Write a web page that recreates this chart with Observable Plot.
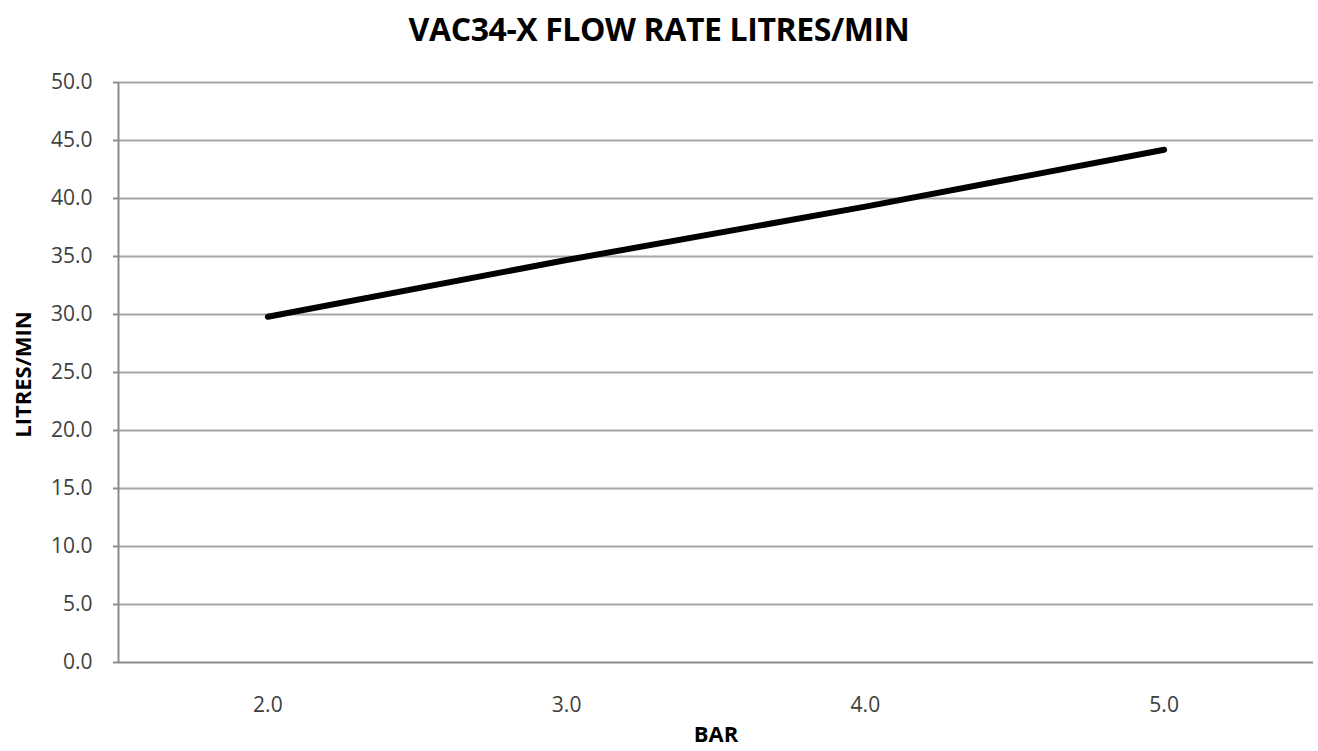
<!DOCTYPE html>
<html>
<head>
<meta charset="utf-8">
<script src="https://cdn.jsdelivr.net/npm/d3@7"></script>
<script src="https://cdn.jsdelivr.net/npm/@observablehq/plot@0.6"></script>
<style>
  html, body { margin: 0; padding: 0; background: #fff; }
  body { width: 1318px; height: 751px; overflow: hidden; font-family: "Open Sans", Lato, sans-serif; }
  #title { height: 60px; line-height: 58px; text-align: center; font-weight: bold; font-size: 32px; color: #000; letter-spacing: -0.4px; white-space: nowrap; }
</style>
</head>
<body>
<div id="title">VAC34-X FLOW RATE LITRES/MIN</div>
<div id="chart"></div>
<script>
const pressures = [2.0, 3.0, 4.0, 5.0];
const flowRates = [29.8, 34.7, 39.3, 44.2];
const yTicks = [0, 5, 10, 15, 20, 25, 30, 35, 40, 45, 50];

const data = pressures.map((p, i) => ({bar: p, flow: flowRates[i]}));
const fmt = d3.format(".1f");

const chart = Plot.plot({
  width: 1318,
  height: 691,
  marginTop: 22,
  marginBottom: 89,
  marginLeft: 118,
  marginRight: 5,
  style: {fontFamily: "'Open Sans', sans-serif", background: "#fff"},
  x: {type: "linear", domain: [1.5, 5.5], axis: null},
  y: {type: "linear", domain: [0, 50], axis: null},
  marks: [
    Plot.ruleY(yTicks.filter(d => d > 0), {stroke: "#a6a6a6", strokeWidth: 2}),
    Plot.axisY({ticks: yTicks, tickSize: 5, tickFormat: () => "", stroke: "#8c8c8c", strokeWidth: 2, label: null}),
    Plot.ruleX([1.5], {stroke: "#8c8c8c", strokeWidth: 2}),
    Plot.ruleY([0], {stroke: "#8c8c8c", strokeWidth: 2}),
    Plot.text(yTicks, {x: () => 1.5, y: d => d, text: d => fmt(d), textAnchor: "end", dx: -26, fontSize: 21, fill: "#404040"}),
    Plot.text(pressures, {x: d => d, y: () => 0, text: d => fmt(d), dy: 43, fontSize: 21, fill: "#404040"}),
    Plot.line(data, {x: "bar", y: "flow", stroke: "#000", strokeWidth: 6, strokeLinecap: "round", strokeLinejoin: "round"}),
    Plot.text(["BAR"], {frameAnchor: "bottom", textAnchor: "middle", dy: 79, text: d => d, fontWeight: "bold", fontSize: 22, fill: "#000"}),
    Plot.text(["LITRES/MIN"], {frameAnchor: "left", textAnchor: "middle", dx: -95, dy: 2, rotate: -90, text: d => d, fontWeight: "bold", fontSize: 22, fill: "#000"})
  ]
});
document.getElementById("chart").appendChild(chart);
</script>
</body>
</html>
